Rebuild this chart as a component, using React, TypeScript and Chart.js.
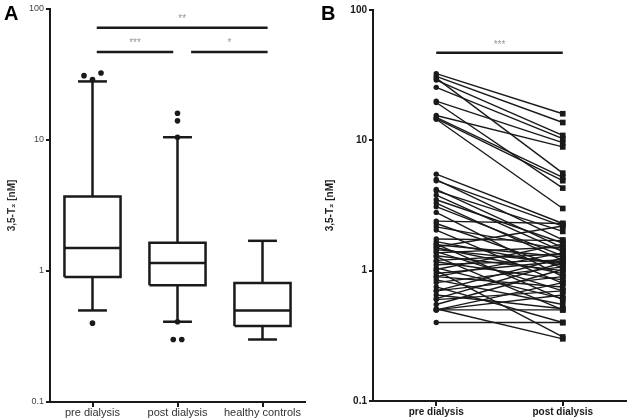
import React, { useEffect, useRef } from 'react';
import { Chart, registerables } from 'chart.js';

Chart.register(...registerables);

// ---------- Panel A: box plots ----------
const boxCategories = ['pre dialysis', 'post dialysis', 'healthy controls'];
const whiskerLow = [0.5, 0.41, 0.3];
const quartile1 = [0.9, 0.78, 0.38];
const medians = [1.5, 1.15, 0.5];
const quartile3 = [3.7, 1.64, 0.81];
const whiskerHigh = [28, 10.5, 1.7];
const outliersPre = [29, 31, 32.5, 0.4];
const outliersPost = [16, 14, 10.5, 0.41, 0.3, 0.3];
const outliersHealthy: number[] = [];
const outlierGroups = [outliersPre, outliersPost, outliersHealthy];

// significance annotations in panel A
const sigLabelsA = ['**', '***', '*'];
const sigFromA = [1.05, 1.05, 2.16];
const sigToA = [3.06, 1.95, 3.06];
const sigLevelA = [72, 47, 47];

// ---------- Panel B: paired values ----------
const pairCategories = ['pre dialysis', 'post dialysis'];
const preDialysis = [32.5, 31, 30, 29, 25.5, 20, 19.5, 15.5, 15, 14.7, 14.5, 5.5, 5.0, 4.9, 4.2, 4.1, 3.8, 3.5, 3.3, 3.1, 2.8, 2.4, 2.3, 2.17, 2.05, 1.75, 1.67, 1.6, 1.58, 1.52, 1.5, 1.45, 1.4, 1.37, 1.3, 1.28, 1.2, 1.17, 1.11, 1.05, 1.02, 1.0, 0.95, 0.9, 0.9, 0.85, 0.81, 0.75, 0.7, 0.7, 0.65, 0.61, 0.6, 0.55, 0.51, 0.5, 0.5, 0.5, 0.4];
const postDialysis = [16, 13.7, 5.6, 10.9, 10.3, 9.6, 4.3, 8.9, 5.2, 4.9, 3.0, 2.3, 1.72, 2.2, 1.5, 2.0, 1.4, 1.63, 1.2, 1.3, 0.9, 2.3, 1.05, 1.45, 0.8, 1.7, 1.1, 0.6, 1.28, 2.2, 0.95, 1.15, 0.7, 1.52, 1.0, 0.5, 1.35, 0.85, 1.21, 0.61, 1.6, 0.31, 1.18, 0.75, 1.37, 0.55, 1.07, 0.4, 1.25, 0.9, 0.51, 1.15, 0.7, 1.02, 0.3, 0.81, 0.5, 0.65, 0.4];
const sigLabelB = '***';
const sigLevelB = 47;

const yTicks = [0.1, 1, 10, 100];
const yTitle = '3,5-T\u2082 [nM]';
const FONT = "'Liberation Sans', Arial, sans-serif";
const INK = '#1a1a1a';

const BOX_HALF = 0.33;
const CAP_HALF = 0.17;
const SPREAD = 0.1;

function spreadOutliers(values: number[], center: number) {
  const sorted = [...values].sort((a, b) => a - b);
  const pts: { x: number; y: number }[] = [];
  let i = 0;
  while (i < sorted.length) {
    let j = i + 1;
    while (j < sorted.length && Math.log10(sorted[j]) - Math.log10(sorted[j - 1]) < 0.04) j++;
    const group = sorted.slice(i, j);
    const n = group.length;
    group.forEach((v, k) => {
      let off: number;
      if (n % 2 === 1) {
        off = k === 0 ? 0 : (k % 2 === 1 ? -Math.ceil(k / 2) : Math.ceil(k / 2));
      } else {
        off = (k % 2 === 0 ? -1 : 1) * (Math.floor(k / 2) + 0.5);
      }
      pts.push({ x: center + off * SPREAD, y: v });
    });
    i = j;
  }
  return pts;
}

const seg = (pts: { x: number; y: number }[], width = 2.5) => ({
  type: 'scatter' as const,
  data: pts,
  showLine: true,
  borderColor: INK,
  borderWidth: width,
  borderJoinStyle: 'miter' as const,
  pointRadius: 0,
  fill: false,
});

function yScale(bold: boolean, width: number, titlePad: number, tickColor: string) {
  return {
    type: 'logarithmic' as const,
    min: 0.1,
    max: 100,
    afterBuildTicks: (s: any) => {
      s.ticks = yTicks.map((v) => ({ value: v }));
    },
    afterFit: (s: any) => {
      s.width = width;
    },
    ticks: {
      callback: (v: any) => String(v),
      font: { family: FONT, size: bold ? 10 : 9, weight: bold ? 'bold' : 'normal' },
      color: tickColor,
      padding: 2,
    },
    grid: { display: true, drawOnChartArea: false, tickLength: 4, color: INK, lineWidth: 2 },
    border: { display: true, color: INK, width: 2 },
    title: {
      display: true,
      text: yTitle,
      font: { family: FONT, size: 10, weight: 'bold' },
      color: bold ? INK : '#333',
      padding: { top: titlePad, bottom: 0 },
    },
  };
}

function PanelA() {
  const ref = useRef<HTMLCanvasElement>(null);
  useEffect(() => {
    const datasets: any[] = [];
    boxCategories.forEach((_, i) => {
      const c = i + 1;
      datasets.push(seg([
        { x: c - BOX_HALF, y: quartile1[i] },
        { x: c + BOX_HALF, y: quartile1[i] },
        { x: c + BOX_HALF, y: quartile3[i] },
        { x: c - BOX_HALF, y: quartile3[i] },
        { x: c - BOX_HALF, y: quartile1[i] },
      ]));
      datasets.push(seg([{ x: c - BOX_HALF, y: medians[i] }, { x: c + BOX_HALF, y: medians[i] }]));
      datasets.push(seg([{ x: c, y: quartile3[i] }, { x: c, y: whiskerHigh[i] }]));
      datasets.push(seg([{ x: c - CAP_HALF, y: whiskerHigh[i] }, { x: c + CAP_HALF, y: whiskerHigh[i] }]));
      datasets.push(seg([{ x: c, y: quartile1[i] }, { x: c, y: whiskerLow[i] }]));
      datasets.push(seg([{ x: c - CAP_HALF, y: whiskerLow[i] }, { x: c + CAP_HALF, y: whiskerLow[i] }]));
      datasets.push({
        type: 'scatter',
        data: spreadOutliers(outlierGroups[i], c),
        pointRadius: 2.8,
        pointBackgroundColor: INK,
        pointBorderWidth: 0,
        showLine: false,
      });
    });
    sigLabelsA.forEach((_, k) => {
      datasets.push(seg([{ x: sigFromA[k], y: sigLevelA[k] }, { x: sigToA[k], y: sigLevelA[k] }]));
    });

    const textPlugin = {
      id: 'textA',
      afterDraw(chart: any) {
        const ctx = chart.ctx;
        const xs = chart.scales.x;
        const ys = chart.scales.y;
        ctx.save();
        ctx.fillStyle = '#000';
        ctx.font = `bold 20px ${FONT}`;
        ctx.textAlign = 'left';
        ctx.textBaseline = 'alphabetic';
        ctx.fillText('A', 4, 20);
        ctx.fillStyle = '#999';
        ctx.font = `10px ${FONT}`;
        ctx.textAlign = 'center';
        sigLabelsA.forEach((t, k) => {
          const x = (xs.getPixelForValue(sigFromA[k]) + xs.getPixelForValue(sigToA[k])) / 2;
          const y = ys.getPixelForValue(sigLevelA[k]) - 6;
          ctx.fillText(t, x, y);
        });
        ctx.restore();
      },
    };

    const chart = new Chart(ref.current!, {
      type: 'scatter',
      data: { datasets },
      options: {
        responsive: false,
        animation: false,
        events: [],
        layout: { padding: { left: 0, right: 10, top: 9, bottom: 0 } },
        plugins: { legend: { display: false }, tooltip: { enabled: false } },
        scales: {
          x: {
            type: 'linear',
            min: 0.5,
            max: 3.5,
            afterBuildTicks: (s: any) => {
              s.ticks = boxCategories.map((_, i) => ({ value: i + 1 }));
            },
            afterFit: (s: any) => {
              s.height = 18;
            },
            ticks: {
              callback: (v: any) => boxCategories[Math.round(Number(v)) - 1],
              font: { family: FONT, size: 11 },
              color: '#333',
              padding: -1,
              autoSkip: false,
              maxRotation: 0,
            },
            grid: { display: true, drawOnChartArea: false, tickLength: 5, color: INK, lineWidth: 2 },
            border: { display: true, color: INK, width: 2 },
          },
          y: yScale(false, 50, 6, '#444'),
        },
      } as any,
      plugins: [textPlugin],
    });
    return () => chart.destroy();
  }, []);
  return <canvas ref={ref} width={315} height={420} style={{ position: 'absolute', left: 0, top: 0 }} />;
}

function PanelB() {
  const ref = useRef<HTMLCanvasElement>(null);
  useEffect(() => {
    const datasets: any[] = preDialysis.map((pre, i) => ({
      data: [pre, postDialysis[i]],
      borderColor: INK,
      borderWidth: 1.4,
      pointStyle: ['circle', 'rect'],
      pointRadius: [2.7, 4],
      pointBackgroundColor: INK,
      pointBorderWidth: 0,
      fill: false,
    }));
    datasets.push({
      data: [sigLevelB, sigLevelB],
      borderColor: INK,
      borderWidth: 2.5,
      pointRadius: 0,
      fill: false,
    });

    const textPlugin = {
      id: 'textB',
      afterDraw(chart: any) {
        const ctx = chart.ctx;
        const xs = chart.scales.x;
        const ys = chart.scales.y;
        ctx.save();
        ctx.fillStyle = '#000';
        ctx.font = `bold 20px ${FONT}`;
        ctx.textAlign = 'left';
        ctx.textBaseline = 'alphabetic';
        ctx.fillText('B', 6, 20);
        ctx.fillStyle = '#999';
        ctx.font = `10px ${FONT}`;
        ctx.textAlign = 'center';
        const x = (xs.getPixelForValue(0) + xs.getPixelForValue(1)) / 2;
        ctx.fillText(sigLabelB, x, ys.getPixelForValue(sigLevelB) - 5);
        ctx.restore();
      },
    };

    const chart = new Chart(ref.current!, {
      type: 'line',
      data: { labels: pairCategories, datasets },
      options: {
        responsive: false,
        animation: false,
        events: [],
        layout: { padding: { left: 0, right: 2, top: 10, bottom: 0 } },
        plugins: { legend: { display: false }, tooltip: { enabled: false } },
        scales: {
          x: {
            type: 'category',
            offset: true,
            afterFit: (s: any) => {
              s.height = 19;
            },
            ticks: {
              font: { family: FONT, size: 10, weight: 'bold' },
              color: INK,
              padding: 0,
              autoSkip: false,
              maxRotation: 0,
            },
            grid: { display: true, drawOnChartArea: false, offset: false, tickLength: 5, color: INK, lineWidth: 2 },
            border: { display: true, color: INK, width: 2 },
          },
          y: yScale(true, 58, 9, INK),
        },
      } as any,
      plugins: [textPlugin],
    });
    return () => chart.destroy();
  }, []);
  return <canvas ref={ref} width={315} height={420} style={{ position: 'absolute', left: 315, top: 0 }} />;
}

export default function App() {
  return (
    <div style={{ position: 'absolute', left: 0, top: 0, width: 630, height: 420, background: '#fff' }}>
      <PanelA />
      <PanelB />
    </div>
  );
}
